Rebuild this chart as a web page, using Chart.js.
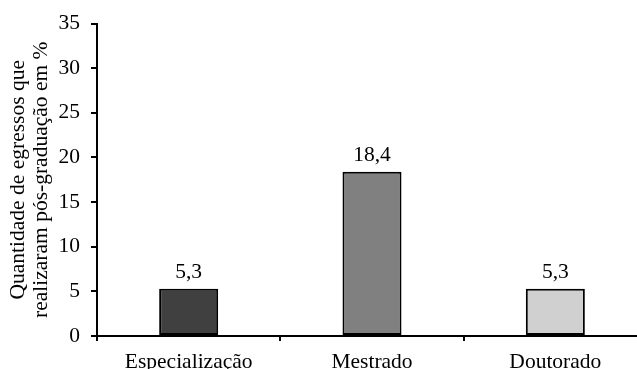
<!DOCTYPE html>
<html lang="pt-BR">
<head>
<meta charset="utf-8">
<title>Pós-graduação dos egressos</title>
<script src="https://cdn.jsdelivr.net/npm/chart.js@4/dist/chart.umd.min.js"></script>
<style>
  html, body { margin: 0; padding: 0; background: #ffffff; overflow: hidden; }
  #wrap { position: absolute; left: 0; top: 0; width: 647px; height: 369px; }
</style>
</head>
<body>
<div id="wrap"><canvas id="grafico" width="647" height="369"></canvas></div>
<script>
// Níveis de pós-graduação e percentual de egressos em cada um
const niveis = ['Especialização', 'Mestrado', 'Doutorado'];
const percentuais = [5.3, 18.4, 5.3];
const coresBarras = ['#404040', '#808080', '#d0d0d0'];
const tituloEixoY = ['Quantidade de egressos que', 'realizaram pós-graduação em %'];
const eixoYMin = 0;
const eixoYMax = 35;
const eixoYPasso = 5;

const FONTE = "'Liberation Serif', 'Times New Roman', serif";
const TAM = 21.5;

const formatar = v => v.toFixed(1).replace('.', ',');

// Escreve o valor de cada barra logo acima dela
const rotulosValores = {
  id: 'rotulosValores',
  afterDatasetsDraw(chart) {
    const ctx = chart.ctx;
    const meta = chart.getDatasetMeta(0);
    ctx.save();
    ctx.font = TAM + 'px ' + FONTE;
    ctx.fillStyle = '#000000';
    ctx.textAlign = 'center';
    ctx.textBaseline = 'alphabetic';
    meta.data.forEach((barra, i) => {
      const v = chart.data.datasets[0].data[i];
      ctx.fillText(formatar(v), barra.x, barra.y - 10.5);
    });
    ctx.restore();
  }
};

new Chart(document.getElementById('grafico'), {
  type: 'bar',
  data: {
    labels: niveis,
    datasets: [{
      data: percentuais,
      backgroundColor: coresBarras,
      borderColor: '#000000',
      borderWidth: 2,
      borderSkipped: false,
      categoryPercentage: 1.0,
      barPercentage: 0.322
    }]
  },
  options: {
    responsive: false,
    animation: false,
    events: [],
    layout: { padding: { top: 23.5, left: 0, right: 0, bottom: 0 } },
    plugins: {
      legend: { display: false },
      tooltip: { enabled: false },
      title: { display: false }
    },
    scales: {
      x: {
        offset: true,
        border: { display: true, color: '#000000', width: 2 },
        grid: {
          offset: true,
          drawOnChartArea: false,
          drawTicks: true,
          tickLength: 5,
          color: '#000000',
          lineWidth: 2
        },
        ticks: {
          color: '#000000',
          padding: 8,
          maxRotation: 0,
          autoSkip: false,
          font: { family: FONTE, size: TAM }
        },
        afterFit(scale) {
          scale.height = 33;
          scale.paddingLeft = 0;
          scale.paddingRight = 0;
        }
      },
      y: {
        min: eixoYMin,
        max: eixoYMax,
        border: { display: true, color: '#000000', width: 2 },
        grid: {
          drawOnChartArea: false,
          drawTicks: true,
          tickLength: 6,
          color: '#000000',
          lineWidth: 2
        },
        ticks: {
          stepSize: eixoYPasso,
          color: '#000000',
          padding: 11,
          font: { family: FONTE, size: TAM }
        },
        title: {
          display: true,
          text: tituloEixoY,
          color: '#000000',
          padding: { top: 6.5, bottom: 0 },
          font: { family: FONTE, size: TAM, lineHeight: 1.07 }
        },
        afterFit(scale) {
          scale.width = 97;
          scale.paddingTop = 0;
          scale.paddingBottom = 0;
        }
      }
    }
  },
  plugins: [rotulosValores]
});
</script>
</body>
</html>
